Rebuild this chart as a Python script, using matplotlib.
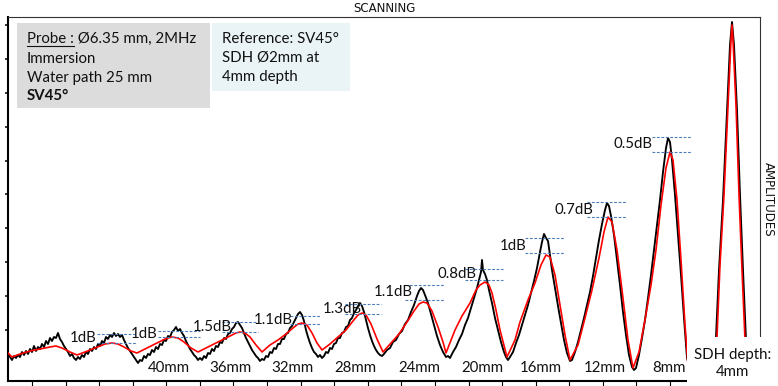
import numpy as np
import matplotlib
matplotlib.use('Agg')
import matplotlib.pyplot as plt
from matplotlib.patches import Rectangle
from matplotlib.lines import Line2D

# scan profile: scan position (samples) / amplitude (counts)
scan_raw = [0, 2, 4, 6, 8, 10, 12, 14, 16, 18, 20, 22, 24, 26, 28, 30, 32, 34, 36, 38,
            40, 42, 44, 46, 48, 50, 52, 54, 56, 58, 60, 62, 64, 66, 68, 70, 72,
            74, 76, 78, 80, 82, 84, 86, 88, 90, 92, 94, 96, 98, 100, 102, 104, 106, 108,
            110, 112, 114, 116, 118, 120, 122, 124, 126, 128, 130, 132, 134,
            136, 138, 140, 142, 144, 146, 148, 150, 152, 154, 156, 158, 160, 162, 164,
            166, 168, 170, 172, 174, 176, 178, 180, 182, 184, 186, 188, 190, 192, 194,
            196, 198, 200, 202, 204, 206, 208, 210, 212, 214, 216, 218, 220, 222, 224,
            226, 228, 230, 232, 234, 236, 238, 240, 242, 244, 246, 248, 250, 252, 254, 256,
            258, 260, 262, 264, 266, 268, 270, 272, 274, 276, 278, 280, 282, 284, 286,
            288, 290, 292, 294, 296, 298, 300, 302, 304, 306, 308, 310, 312, 314, 316,
            318, 320, 322, 324, 326, 328, 330, 332, 334, 336, 338, 340, 342, 344, 346,
            348, 350, 352, 354, 356, 358, 360, 362, 364, 366, 368, 370, 372, 374, 376,
            379, 382, 385, 388, 391, 394, 397, 400, 403, 406, 409, 411, 413, 415, 417,
            420, 423, 426, 429, 432, 435, 438, 440, 442,
            445, 448, 451, 454, 457, 460, 463, 466, 469, 471, 473, 474, 475, 477, 479,
            481, 484, 487, 490, 493, 496, 498, 500, 502,
            505, 508, 511, 514, 517, 520, 523, 526, 529, 532, 534, 536, 538, 540, 542,
            544, 547, 550, 553, 556, 559, 562, 564,
            567, 570, 573, 576, 579, 582, 585, 588, 591, 594, 597, 599, 601, 603, 606,
            609, 612, 615, 618, 621, 624, 626, 628,
            631, 634, 637, 640, 643, 646, 649, 652, 655, 658, 660, 662, 664, 667, 670,
            673, 676, 679,
            684, 692, 698, 704, 708, 711, 715, 719, 722, 724, 726, 729, 732, 735, 738,
            742, 748]
amp_raw = [28, 24, 21, 25, 23, 26, 24, 29, 26, 30, 27, 32, 29, 35, 30, 34, 32, 37, 34, 40,
           37, 43, 40, 44, 43, 48, 42, 39, 35, 32, 29, 25, 27, 23, 21, 24, 22,
           26, 24, 29, 27, 32, 30, 34, 32, 37, 35, 40, 38, 44, 42, 46, 44, 48, 45,
           47, 44, 46, 41, 37, 33, 30, 27, 24, 21, 18, 21, 20,
           25, 23, 27, 26, 31, 29, 34, 32, 37, 36, 41, 40, 45, 44, 49,
           51, 54, 50, 52, 48, 45, 40, 36, 32, 29, 26, 24, 21, 23, 21,
           25, 23, 28, 27, 32, 30, 35, 34, 39, 38, 43, 42, 47, 48, 52,
           54, 58, 59, 56, 53, 48, 43, 39, 35, 31, 28, 25, 23, 20, 22, 21,
           25, 24, 29, 28, 33, 32, 37, 37, 42, 42, 47, 48, 53, 55, 59,
           63, 67, 69, 66, 60, 51, 44, 38, 33, 29, 27, 24, 26, 23, 25,
           29, 28, 33, 32, 37, 38, 43, 43, 48, 49, 54, 55, 61, 63, 68,
           71, 75, 78, 75, 69, 61, 53, 46, 40, 35, 31, 28, 26, 25, 27,
           31, 33, 39, 41, 47, 50, 57, 61, 69, 76, 85, 90, 93, 91, 86,
           78, 67, 56, 45, 36, 29, 24, 25, 23,
           29, 34, 41, 47, 56, 63, 73, 83, 93, 101, 109, 121, 111, 107, 101,
           91, 78, 63, 51, 39, 29, 24, 21, 24,
           29, 38, 46, 56, 66, 76, 88, 100, 113, 129, 139, 147, 143, 140, 126,
           111, 93, 75, 58, 41, 28, 20, 21,
           29, 39, 51, 63, 76, 89, 105, 123, 141, 157, 171, 178, 175, 165, 146,
           121, 96, 69, 46, 26, 14, 11, 13,
           26, 43, 61, 83, 106, 131, 156, 181, 209, 233, 243, 239, 221, 186, 146,
           106, 63, 23,
           7, 3, 9, 26, 44, 111, 181, 271, 336, 359, 336, 271, 186, 111, 41,
           9, 4]

scan_filt = [0, 4, 12, 22, 32, 42, 48, 54, 62, 69, 77, 87, 97, 104, 110, 116, 123, 129,
             137, 147, 157, 164, 170, 176, 183, 190, 198, 206, 214, 222, 228, 232, 237,
             242, 248, 254, 262, 270, 278, 285, 290, 294, 299, 304, 309, 314,
             322, 330, 338, 345, 350, 354, 358, 363, 369, 375,
             383, 391, 399, 406, 411, 415, 419, 424, 430, 435, 438,
             447, 454, 462, 468, 472, 477, 481, 484, 488, 492, 499,
             507, 512, 520, 527, 533, 538, 542, 547, 552, 557, 562,
             570, 577, 584, 591, 596, 600, 604, 609, 614, 620, 625,
             631, 637, 643, 648, 653, 658, 662, 665, 669, 673, 677, 680,
             687, 697, 704, 709, 712, 716, 720, 723, 724, 725, 728, 731, 734, 737, 742, 750]
amp_filt = [28, 24, 27, 30, 32, 34, 35, 33, 29, 26, 29, 33, 37, 38, 37, 34, 30, 28,
            32, 37, 42, 44, 43, 39, 33, 29, 33, 37, 41, 45, 48, 49, 48,
            44, 36, 29, 36, 41, 47, 53, 57, 58, 56, 48, 38, 31,
            37, 44, 51, 60, 66, 68, 66, 57, 42, 29,
            38, 47, 59, 70, 77, 79, 78, 70, 54, 39, 28,
            51, 65, 78, 91, 96, 99, 96, 88, 71, 51, 24,
            41, 59, 81, 98, 116, 126, 124, 106, 76, 46, 21,
            36, 63, 91, 123, 149, 164, 159, 131, 91, 41, 13,
            29, 61, 96, 131, 176, 213, 229, 221, 181, 121, 56, 16,
            3, 6, 23, 44, 116, 186, 276, 341, 356, 341, 276, 186, 111, 41, 11, 5]

# dB differences between raw and filtered peaks
db_labels = ['1dB', '1dB', '1.5dB', '1.1dB', '1.3dB', '1.1dB', '0.8dB', '1dB', '0.7dB', '0.5dB']
peak_raw = [47, 50, 59, 65, 77, 96, 112, 143, 179, 244]
peak_filt = [38, 44, 49, 57, 67, 81, 101, 128, 164, 229]

depths = ['40mm', '36mm', '32mm', '28mm', '24mm', '20mm', '16mm', '12mm', '8mm']

# layout of the annotations (scan units)
dash_start = [89, 150, 214, 282, 337, 397, 457, 517, 579, 644]
dash_end = [129, 192, 250, 312, 373, 437, 495, 556, 619, 683]
label_right = [89, 150, 224, 285, 354, 405, 469, 519, 585, 644]
depth_x = [161, 222, 284, 347, 411, 474, 533, 597, 661]

W, H = 778, 386
fig = plt.figure(figsize=(W / 100, H / 100), dpi=100)
ax = fig.add_axes([8 / W, 5 / H, 752 / W, 364 / H])

ax.plot(scan_raw, amp_raw, color='black', lw=1.35, zorder=2)
ax.plot(scan_filt, amp_filt, color='#ff0000', lw=1.2, zorder=3)

blue = '#4a7ebb'
ax.hlines(peak_raw, dash_start, dash_end, colors=blue, lw=0.8, linestyles=(0, (2.5, 1.5)), zorder=4)
ax.hlines(peak_filt, dash_start, dash_end, colors=blue, lw=0.8, linestyles=(0, (2.5, 1.5)), zorder=4)

font = 'Lato'
fs = 10.8
for lab, xr, hi, lo in zip(db_labels, label_right, peak_raw, peak_filt):
    ax.text(xr, (hi + lo) / 2, lab, ha='right', va='center', fontsize=fs,
            family=font, color='#111111', zorder=5)

for lab, xc in zip(depths, depth_x):
    ax.text(xc, 13, lab, ha='center', va='center', fontsize=fs, family=font,
            color='#111111', zorder=5)

ax.set_xlim(0, 752)
ax.set_ylim(0, 364)
ax.set_xticks(np.linspace(24, 662, 20))
ax.set_yticks(np.linspace(51, 356, 10))
ax.set_xticklabels([])
ax.set_yticklabels([])
ax.tick_params(axis='x', direction='out', length=3.6, width=0.8, color='black')
ax.tick_params(axis='y', direction='out', length=2.4, width=1.1, color='black')
for side in ['left', 'bottom']:
    ax.spines[side].set_linewidth(1.5)
    ax.spines[side].set_color('black')
for side in ['top', 'right']:
    ax.spines[side].set_linewidth(0.8)
    ax.spines[side].set_color('#333333')
ax.spines['bottom'].set_bounds(0, 678)

fig.text(384 / W, 1 - 8 / H, 'SCANNING', ha='center', va='center', fontsize=8.5,
         family='DejaVu Sans', color='#111111')
fig.text(768 / W, 1 - 199 / H, 'AMPLITUDES', rotation=-90, ha='center', va='center',
         fontsize=8.5, family='DejaVu Sans', color='#111111')

# white block in the bottom right corner with the SDH depth note
fig.add_artist(Rectangle((687 / W, 0), 91 / W, 49 / H, transform=fig.transFigure,
                         facecolor='white', edgecolor='none', zorder=5))
fig.text(733 / W, 1 - 355 / H, 'SDH depth:', ha='center', va='center', fontsize=fs,
         family=font, color='#111111', zorder=6)
fig.text(733 / W, 1 - 372 / H, '4mm', ha='center', va='center', fontsize=fs,
         family=font, color='#111111', zorder=6)

# info boxes
fig.add_artist(Rectangle((17 / W, 1 - 108 / H), 193 / W, 85 / H, transform=fig.transFigure,
                         facecolor='#dcdcdc', edgecolor='none', zorder=4))
fig.add_artist(Rectangle((212 / W, 1 - 91 / H), 138 / W, 68 / H, transform=fig.transFigure,
                         facecolor='#eaf4f6', edgecolor='none', zorder=4))

fig.text(27 / W, 1 - 43 / H, 'Probe : Ø6.35 mm, 2MHz', va='baseline',
         fontsize=fs, family=font, color='#111111', zorder=6)
fig.text(27 / W, 1 - 63 / H, 'Immersion', va='baseline', fontsize=fs, family=font,
         color='#111111', zorder=6)
fig.text(27 / W, 1 - 82 / H, 'Water path 25 mm', va='baseline', fontsize=fs, family=font,
         color='#111111', zorder=6)
fig.text(27 / W, 1 - 100 / H, 'SV45°', va='baseline', fontsize=fs, family=font,
         fontweight='bold', color='#111111', zorder=6)

fig.text(222 / W, 1 - 43 / H, 'Reference: SV45°', va='baseline', fontsize=fs, family=font,
         color='#111111', zorder=6)
fig.text(222 / W, 1 - 62 / H, 'SDH Ø2mm at', va='baseline', fontsize=fs, family=font,
         color='#111111', zorder=6)
fig.text(222 / W, 1 - 81 / H, '4mm depth', va='baseline', fontsize=fs, family=font,
         color='#111111', zorder=6)

# underline "Probe :"
renderer = fig.canvas.get_renderer()
tmp = fig.text(27 / W, 1 - 43 / H, 'Probe :', va='baseline', fontsize=fs, family=font)
bb = tmp.get_window_extent(renderer)
tmp.remove()
fig.add_artist(Line2D([bb.x0 / W, bb.x1 / W], [1 - 45.5 / H, 1 - 45.5 / H],
                      transform=fig.transFigure, color='#111111', lw=0.8, zorder=6))

fig.savefig('out.png', dpi=100)
